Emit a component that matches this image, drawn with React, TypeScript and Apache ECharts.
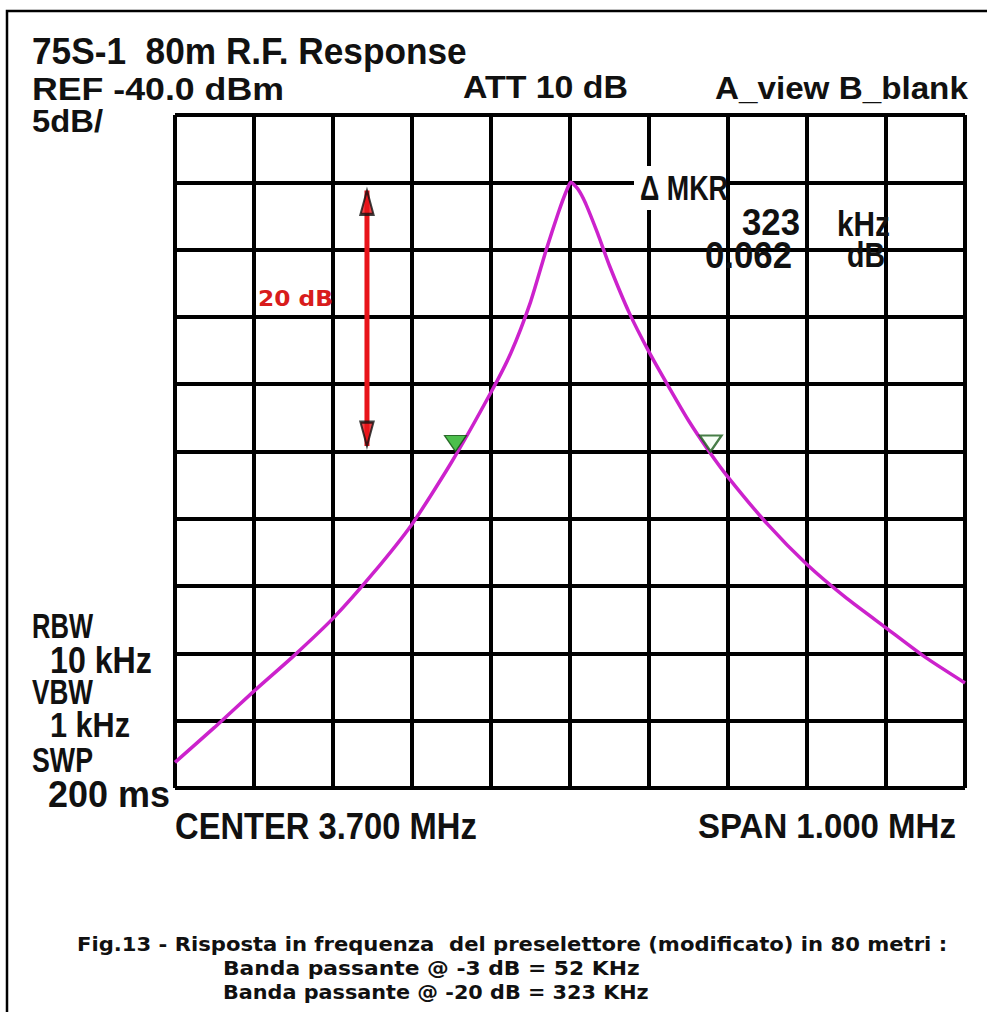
import React, { useEffect, useRef } from "react";
import * as echarts from "echarts";

// ---- data ----
const freqKHz = [3200, 3250, 3300, 3350, 3400, 3450, 3500, 3550, 3600, 3625, 3650, 3670, 3685, 3695, 3701, 3710, 3720, 3735, 3750, 3775, 3800, 3825, 3850, 3875, 3900, 3950, 4000, 4050, 4100, 4150, 4200];
const levelDb = [-88.1, -85.5, -82.8, -80.2, -77.4, -74.1, -70.4, -65.8, -60.6, -57.7, -53.9, -50.0, -47.3, -45.7, -45.0, -45.5, -46.6, -48.8, -51.2, -54.7, -57.6, -60.2, -62.7, -64.9, -66.9, -70.4, -73.4, -75.9, -78.1, -80.3, -82.2];
const markerFreqKHz = [3555, 3878];
const markerDb = [-65.0, -65.0];
const arrowFreqKHz = [3443, 3443];
const arrowDb = [-45.6, -64.6];
const X_MIN = 3200, X_MAX = 4200, X_STEP = 100;
const Y_MIN = -90, Y_MAX = -40, Y_STEP = 5;

const instrumentTexts = [
  "75S-1  80m R.F. Response",
  "REF -40.0 dBm",
  "ATT 10 dB",
  "A_view B_blank",
  "5dB/",
  "Δ MKR",
  "323",
  "kHz",
  "0.062",
  "dB",
  "RBW",
  "10 kHz",
  "VBW",
  "1 kHz",
  "SWP",
  "200 ms",
  "CENTER 3.700 MHz",
  "SPAN 1.000 MHz",
];
const captionTexts = [
  "Fig.13 - Risposta in frequenza  del preselettore (modificato) in 80 metri :",
  "Banda passante @ -3 dB = 52 KHz",
  "Banda passante @ -20 dB = 323 KHz",
];
const arrowLabel = "20 dB";

// ---- layout (positions / sizes) ----
const instLayout = [
  { x: 32, y: 52, fs: 36, w: 435 },
  { x: 32, y: 89, fs: 32, w: 252 },
  { x: 463, y: 87, fs: 32, w: 165 },
  { x: 715, y: 88, fs: 32, w: 253 },
  { x: 32, y: 121, fs: 32, w: 71 },
  { x: 640, y: 188, fs: 36, w: 88 },
  { x: 742, y: 222, fs: 36, w: 58 },
  { x: 837, y: 223, fs: 36, w: 53 },
  { x: 705, y: 255, fs: 36, w: 87 },
  { x: 847, y: 255, fs: 36, w: 38 },
  { x: 32, y: 626, fs: 36, w: 61 },
  { x: 50, y: 660, fs: 36, w: 102 },
  { x: 32, y: 692, fs: 36, w: 61 },
  { x: 50, y: 725, fs: 36, w: 80 },
  { x: 32, y: 760, fs: 36, w: 61 },
  { x: 48, y: 794, fs: 36, w: 122 },
  { x: 175, y: 826, fs: 36, w: 302 },
  { x: 698, y: 825, fs: 36, w: 258 },
];
const capLayout = [
  { x: 77, y: 944, fs: 20, w: 871 },
  { x: 223, y: 968, fs: 20, w: 417 },
  { x: 223, y: 992, fs: 20, w: 426 },
];

const INST_FONT = '"Liberation Sans", Arial, sans-serif';
const CAP_FONT = '"DejaVu Sans", Verdana, sans-serif';

function makeFitter() {
  const c = document.createElement("canvas");
  const ctx = c.getContext("2d")!;
  return (text: string, fs: number, family: string, target: number) => {
    ctx.font = `bold ${fs}px ${family}`;
    const w = ctx.measureText(text).width || target;
    return target / w;
  };
}

export default function App() {
  const ref = useRef<HTMLDivElement>(null);
  useEffect(() => {
    if (!ref.current) return;
    const chart = echarts.init(ref.current, undefined, { renderer: "svg" });
    const fit = makeFitter();

    const textEls: any[] = [];
    instrumentTexts.forEach((t, i) => {
      const L = instLayout[i];
      textEls.push({
        type: "text",
        x: L.x,
        y: L.y,
        scaleX: fit(t, L.fs, INST_FONT, L.w),
        z: 20,
        silent: true,
        style: {
          text: t,
          fontFamily: INST_FONT,
          fontSize: L.fs,
          fontWeight: "bold",
          fill: "#111",
          align: "left",
          verticalAlign: "middle",
        },
      });
    });
    captionTexts.forEach((t, i) => {
      const L = capLayout[i];
      textEls.push({
        type: "text",
        x: L.x,
        y: L.y,
        scaleX: fit(t, L.fs, CAP_FONT, L.w),
        z: 20,
        silent: true,
        style: {
          text: t,
          fontFamily: CAP_FONT,
          fontSize: L.fs,
          fontWeight: "bold",
          fill: "#111",
          align: "left",
          verticalAlign: "middle",
        },
      });
    });
    textEls.push({
      type: "text",
      x: 258,
      y: 298,
      scaleX: fit(arrowLabel, 22, CAP_FONT, 75),
      z: 20,
      silent: true,
      style: {
        text: arrowLabel,
        fontFamily: CAP_FONT,
        fontSize: 22,
        fontWeight: "bold",
        fill: "#d81c1c",
        align: "left",
        verticalAlign: "middle",
      },
    });

    const option: any = {
      animation: false,
      backgroundColor: "#ffffff",
      grid: { left: 175, top: 115, width: 790, height: 673, containLabel: false },
      xAxis: {
        type: "value",
        min: X_MIN,
        max: X_MAX,
        interval: X_STEP,
        axisLine: { show: false },
        axisTick: { show: false },
        axisLabel: { show: false },
        splitLine: { show: true, lineStyle: { color: "#000", width: 4 } },
      },
      yAxis: {
        type: "value",
        min: Y_MIN,
        max: Y_MAX,
        interval: Y_STEP,
        axisLine: { show: false },
        axisTick: { show: false },
        axisLabel: { show: false },
        splitLine: { show: true, lineStyle: { color: "#000", width: 4 } },
      },
      graphic: [
        {
          type: "rect",
          silent: true,
          z: 1,
          shape: { x: 7, y: 11, width: 1200, height: 1200 },
          style: { fill: "none", stroke: "#000", lineWidth: 2.5 },
        },
        {
          type: "rect",
          silent: true,
          z: 15,
          shape: { x: 634, y: 166, width: 92, height: 44 },
          style: { fill: "#fff" },
        },
        ...textEls,
      ],
      series: [
        {
          name: "response",
          type: "line",
          data: freqKHz.map((f, i) => [f, levelDb[i]]),
          showSymbol: false,
          smooth: 0.2,
          lineStyle: { color: "#cc22cc", width: 3.5 },
          z: 3,
          silent: true,
        },
        {
          name: "arrow",
          type: "line",
          data: arrowFreqKHz.map((f, i) => [f, arrowDb[i]]),
          showSymbol: false,
          lineStyle: { color: "#e8141a", width: 5 },
          z: 4,
          silent: true,
        },
        {
          name: "arrowHeads",
          type: "scatter",
          z: 5,
          silent: true,
          data: [
            {
              value: [arrowFreqKHz[0], arrowDb[0]],
              symbol: "triangle",
              symbolSize: [13, 24],
              symbolOffset: [0, 12],
            },
            {
              value: [arrowFreqKHz[1], arrowDb[1]],
              symbol: "triangle",
              symbolSize: [13, 24],
              symbolRotate: 180,
              symbolOffset: [0, -12],
            },
          ],
          itemStyle: { color: "#e8141a", borderColor: "#111", borderWidth: 2.5 },
        },
        {
          name: "markers",
          type: "scatter",
          z: 6,
          silent: true,
          data: [
            {
              value: [markerFreqKHz[0], markerDb[0]],
              symbol: "triangle",
              symbolSize: [22, 16],
              symbolRotate: 180,
              symbolOffset: [0, -8],
              itemStyle: { color: "#1fae1f", borderColor: "#0b4d0b", borderWidth: 1.2 },
            },
            {
              value: [markerFreqKHz[1], markerDb[1]],
              symbol: "triangle",
              symbolSize: [22, 16],
              symbolRotate: 180,
              symbolOffset: [0, -8],
              itemStyle: { color: "#f4fff4", borderColor: "#1a5e1a", borderWidth: 2.2 },
            },
          ],
        },
      ],
    };
    chart.setOption(option);
    return () => chart.dispose();
  }, []);

  return (
    <div
      ref={ref}
      style={{ position: "absolute", left: 0, top: 0, width: 987, height: 1012 }}
    />
  );
}
